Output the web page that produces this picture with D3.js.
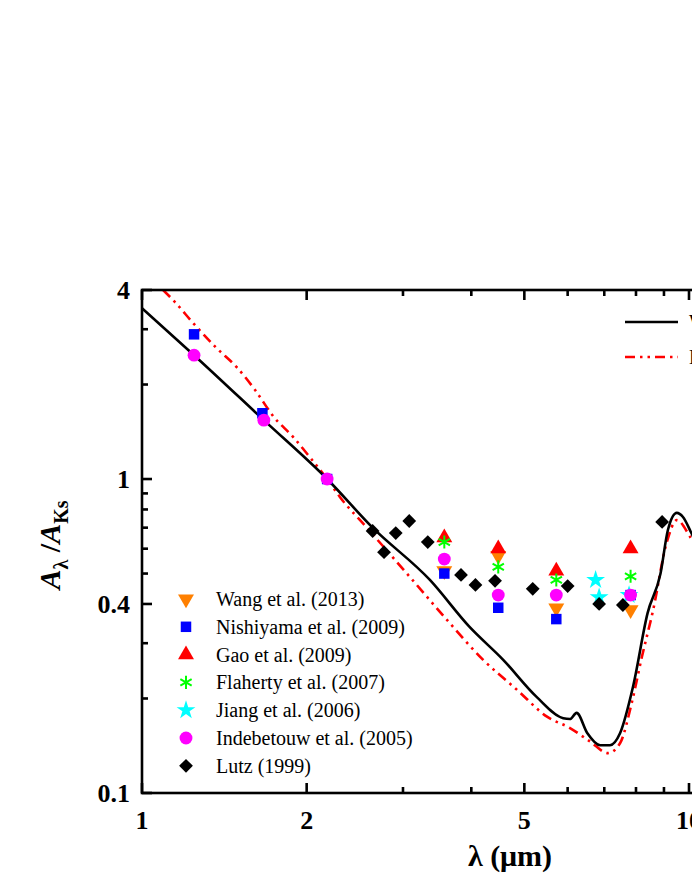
<!DOCTYPE html>
<html><head><meta charset="utf-8">
<script src="https://cdn.jsdelivr.net/npm/d3@7"></script>
<style>body{margin:0;background:#fff}svg{display:block}text{font-family:"Liberation Serif","Times New Roman",serif}</style>
</head><body>
<script>
const irac = [3.57, 4.48, 5.72, 7.82];
const wang2013 = [0.51, 0.57, 0.388, 0.383];
const nishiyamaLam = [1.245, 1.66, 2.18, 3.57, 4.48, 5.72, 7.82];
const nishiyama = [2.89, 1.62, 1.0, 0.50, 0.389, 0.358, 0.427];
const gao = [0.65, 0.60, 0.51, 0.60];
const flaherty = [0.63, 0.525, 0.477, 0.49];
const jiangLam = [6.75, 6.85, 7.77];
const jiang = [0.477, 0.42, 0.427];
const indebLam = [1.245, 1.67, 2.18, 3.57, 4.48, 5.72, 7.82];
const indeb = [2.48, 1.54, 1.0, 0.556, 0.427, 0.427, 0.427];
const lutzLam = [2.64, 2.77, 2.91, 3.08, 3.33, 3.83, 4.07, 4.42, 5.18, 6.0, 6.85, 7.57, 8.93];
const lutz = [0.683, 0.585, 0.673, 0.735, 0.63, 0.495, 0.46, 0.474, 0.447, 0.456, 0.40, 0.397, 0.73];
const modelALam = [1.0, 1.245, 1.67, 2.18, 2.64, 3.36, 3.97, 4.57, 5.27, 5.89, 6.06, 6.23, 6.52, 6.88, 7.17, 7.48, 7.9, 8.4, 8.87, 9.15, 9.5, 9.75, 10.1, 11, 12];
const modelA = [3.5, 2.48, 1.54, 1.0, 0.70, 0.477, 0.338, 0.266, 0.202, 0.173, 0.172, 0.18, 0.155, 0.142, 0.142, 0.155, 0.218, 0.374, 0.50, 0.688, 0.78, 0.757, 0.673, 0.5, 0.4];
const modelBLam = [1.093, 1.149, 1.24, 1.37, 1.49, 1.61, 1.74, 1.89, 2.03, 2.18, 2.3, 2.58, 3.05, 3.61, 4.2, 4.85, 5.5, 6.06, 6.59, 7.11, 7.48, 7.86, 8.2, 8.6, 9.1, 9.5, 10.05, 11, 12];
const modelB = [4.0, 3.66, 3.14, 2.61, 2.27, 1.92, 1.58, 1.36, 1.17, 1.0, 0.877, 0.698, 0.50, 0.356, 0.266, 0.213, 0.175, 0.161, 0.146, 0.134, 0.144, 0.194, 0.271, 0.383, 0.626, 0.74, 0.654, 0.48, 0.38];
const xTickLabels = [1, 2, 5, 10];
const yTickLabels = [0.1, 0.4, 1, 4];
const legendNames = ["Wang et al. (2013)", "Nishiyama et al. (2009)", "Gao et al. (2009)", "Flaherty et al. (2007)", "Jiang et al. (2006)", "Indebetouw et al. (2005)", "Lutz (1999)"];
const modelNames = ["WD01", "EBD"];

const W = 692, H = 896;
const svg = d3.select("body").append("svg").attr("width", W).attr("height", H);
const x = d3.scaleLog().domain([1, 10]).range([142, 689]);
const y = d3.scaleLog().domain([0.1, 4]).range([793, 290]);
const pL = 142, pR = 760, pT = 290, pB = 793;
svg.append("defs").append("clipPath").attr("id","c").append("rect").attr("x",pL).attr("y",pT).attr("width",pR-pL).attr("height",pB-pT);
const g = svg.append("g");

const line = d3.line().x(d => x(d[0])).y(d => y(d[1])).curve(d3.curveMonotoneX);
g.append("path").attr("clip-path","url(#c)").datum(modelBLam.map((l,i)=>[l,modelB[i]])).attr("d", line)
  .attr("fill","none").attr("stroke","#ff0000").attr("stroke-width",2.6).attr("stroke-dasharray","10,5,2.5,5,2.5,5");
g.append("path").attr("clip-path","url(#c)").datum(modelALam.map((l,i)=>[l,modelA[i]])).attr("d", line)
  .attr("fill","none").attr("stroke","#000").attr("stroke-width",2.6);

const sym = {
  tdown: d3.symbol().type(d3.symbolTriangle).size(110),
  sq: d3.symbol().type(d3.symbolSquare).size(110),
  tup: d3.symbol().type(d3.symbolTriangle).size(110),
  ast: d3.symbol().type(d3.symbolAsterisk).size(120),
  star: d3.symbol().type(d3.symbolStar).size(110),
  circ: d3.symbol().type(d3.symbolCircle).size(130),
  diam: d3.symbol().type(d3.symbolSquare).size(95)
};
const series = [
  {lam: irac, v: wang2013, s: "tdown", c: "#ff8000", rot: 180},
  {lam: nishiyamaLam, v: nishiyama, s: "sq", c: "#0000ff", rot: 0},
  {lam: irac, v: gao, s: "tup", c: "#ff0000", rot: 0},
  {lam: irac, v: flaherty, s: "ast", c: "#00ff00", rot: 0},
  {lam: jiangLam, v: jiang, s: "star", c: "#00ffff", rot: 0},
  {lam: indebLam, v: indeb, s: "circ", c: "#ff00ff", rot: 0},
  {lam: lutzLam, v: lutz, s: "diam", c: "#000000", rot: 45}
];
function drawSym(sel, s, c) {
  sel.attr("d", sym[s]());
  if (s === "ast") sel.attr("fill","none").attr("stroke",c).attr("stroke-width",2);
  else sel.attr("fill",c);
}
series.forEach(se => {
  g.selectAll(null).data(se.lam.map((l,i)=>[l,se.v[i]])).enter().append("path")
    .attr("transform", d => `translate(${x(d[0])},${y(d[1])}) rotate(${se.rot})`)
    .each(function(){ drawSym(d3.select(this), se.s, se.c); });
});

series.forEach((se,i) => {
  const yy = 599 + i*27.8;
  g.append("path").attr("transform",`translate(186,${yy}) rotate(${se.rot})`).each(function(){ drawSym(d3.select(this), se.s, se.c); });
  g.append("text").attr("x",216).attr("y",yy+7).attr("font-size",20).text(legendNames[i]);
});
g.append("line").attr("x1",625).attr("x2",678).attr("y1",322).attr("y2",322).attr("stroke","#000").attr("stroke-width",2.6);
g.append("line").attr("x1",625).attr("x2",678).attr("y1",357).attr("y2",357).attr("stroke","#ff0000").attr("stroke-width",2.6).attr("stroke-dasharray","10,5,2.5,5,2.5,5");
g.append("text").attr("x",689).attr("y",329).attr("font-size",20).text(modelNames[0]);
g.append("text").attr("x",689).attr("y",364).attr("font-size",20).text(modelNames[1]);

const xMinor = [3,4,6,7,8,9];
const yMinor = [0.2,0.3,0.5,0.6,0.7,0.8,0.9,2,3];
const ax = svg.append("g").attr("stroke","#000").attr("stroke-width",2.6);
ax.append("rect").attr("x",pL).attr("y",pT).attr("width",pR-pL).attr("height",pB-pT).attr("fill","none");
xTickLabels.concat(xMinor).forEach(v => {
  const L = xTickLabels.includes(v) ? 10 : 6;
  ax.append("line").attr("x1",x(v)).attr("x2",x(v)).attr("y1",pB).attr("y2",pB-L);
  ax.append("line").attr("x1",x(v)).attr("x2",x(v)).attr("y1",pT).attr("y2",pT+L);
});
yTickLabels.concat(yMinor).forEach(v => {
  const L = yTickLabels.includes(v) ? 10 : 6;
  ax.append("line").attr("x1",pL).attr("x2",pL+L).attr("y1",y(v)).attr("y2",y(v));
});
xTickLabels.forEach(v => svg.append("text").attr("x",x(v)).attr("y",829).attr("text-anchor","middle")
  .attr("font-size",26).attr("font-weight","bold").text(v));
yTickLabels.forEach(v => svg.append("text").attr("x",130).attr("y",y(v)+9).attr("text-anchor","end")
  .attr("font-size",26).attr("font-weight","bold").text(v));
svg.append("text").attr("x",510).attr("y",866).attr("text-anchor","middle").attr("font-size",30).attr("font-weight","bold").text("λ (μm)");
const yl = svg.append("text").attr("transform","translate(60,545) rotate(-90)").attr("text-anchor","middle")
  .attr("font-size",30).attr("font-weight","bold");
yl.append("tspan").attr("font-style","italic").text("A");
yl.append("tspan").attr("font-size",20).attr("dy",8).text("λ");
yl.append("tspan").attr("dy",-8).text(" /");
yl.append("tspan").attr("font-style","italic").text("A");
yl.append("tspan").attr("font-size",20).attr("dy",8).text("Ks");
</script>
</body></html>
